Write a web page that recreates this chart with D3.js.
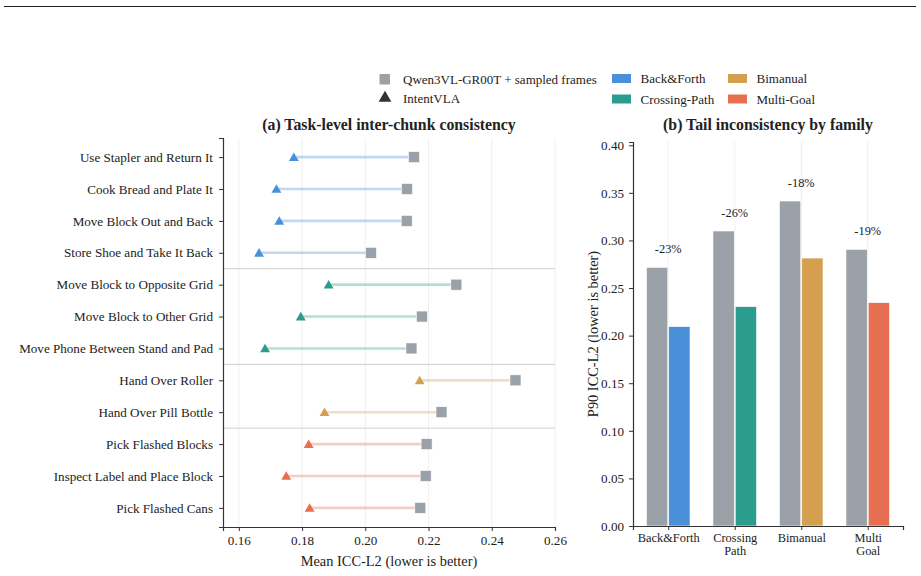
<!DOCTYPE html>
<html>
<head>
<meta charset="utf-8">
<script src="https://cdn.jsdelivr.net/npm/d3@7"></script>
<style>
  body { margin: 0; background: #fff; }
  svg text { font-family: "Liberation Serif", "Times New Roman", serif; fill: #222; }
</style>
</head>
<body>
<svg id="chart" width="921" height="576"></svg>
<script>
// task-level data (panel a)
const tasks = ["Use Stapler and Return It", "Cook Bread and Plate It", "Move Block Out and Back",
    "Store Shoe and Take It Back", "Move Block to Opposite Grid", "Move Block to Other Grid",
    "Move Phone Between Stand and Pad", "Hand Over Roller", "Hand Over Pill Bottle",
    "Pick Flashed Blocks", "Inspect Label and Place Block", "Pick Flashed Cans"];
const taskFamily = [0, 0, 0, 0, 1, 1, 1, 2, 2, 3, 3, 3];
const baselineMean = [0.2154, 0.2132, 0.2131, 0.2018, 0.2288, 0.2179, 0.2146, 0.2475, 0.2241, 0.2194, 0.2191, 0.2174];
const intentMean = [0.1774, 0.1719, 0.1728, 0.1664, 0.1884, 0.1796, 0.1683, 0.2172, 0.1871, 0.1821, 0.1750, 0.1824];
const meanTicks = [0.16, 0.18, 0.20, 0.22, 0.24, 0.26];

// family-level data (panel b)
const families = ["Back&Forth", "Crossing-Path", "Bimanual", "Multi-Goal"];
const familyTickLabels = [["Back&Forth"], ["Crossing", "Path"], ["Bimanual"], ["Multi", "Goal"]];
const baselineP90 = [0.2717, 0.3099, 0.3414, 0.2906];
const intentP90 = [0.2094, 0.2304, 0.2815, 0.2346];
const p90Ticks = [0, 0.05, 0.10, 0.15, 0.20, 0.25, 0.30, 0.35, 0.40];

const familyColors = ["#4a90d9", "#2a9d8f", "#d4a050", "#e76f51"];
const baseGray = "#9aa1a8";

const svg = d3.select('#chart');

// rule across the top
svg.append("line").attr("x1", 4).attr("x2", 916).attr("y1", 6.5).attr("y2", 6.5)
    .attr("stroke", "#222").attr("stroke-width", 1.2);

// ---------- panel a ----------
const aLeft = 223, aRight = 555, aTop = 138, aBottom = 527;
const xA = d3.scaleLinear().domain([0.155, 0.26]).range([aLeft, aRight]);
const yA = d3.scaleLinear().domain([-0.6, tasks.length - 0.4]).range([aTop, aBottom]);

const gA = svg.append("g");
gA.selectAll("line.grid").data(meanTicks).join("line")
    .attr("x1", d => xA(d)).attr("x2", d => xA(d))
    .attr("y1", aTop).attr("y2", aBottom)
    .attr("stroke", "#ebebeb").attr("stroke-width", 0.8);

// family separators
const seps = [];
for (let i = 1; i < tasks.length; i++) if (taskFamily[i] !== taskFamily[i - 1]) seps.push(i - 0.5);
gA.selectAll("line.sep").data(seps).join("line")
    .attr("x1", aLeft).attr("x2", aRight)
    .attr("y1", d => yA(d)).attr("y2", d => yA(d))
    .attr("stroke", "#cfcfcf").attr("stroke-width", 1);

tasks.forEach(function(t, i) {
    const c = familyColors[taskFamily[i]];
    gA.append("line")
        .attr("x1", xA(intentMean[i])).attr("x2", xA(baselineMean[i]))
        .attr("y1", yA(i)).attr("y2", yA(i))
        .attr("stroke", c).attr("stroke-opacity", 0.35).attr("stroke-width", 2.6);
    gA.append("rect")
        .attr("x", xA(baselineMean[i]) - 5.5).attr("y", yA(i) - 5.5)
        .attr("width", 11).attr("height", 11)
        .attr("fill", baseGray).attr("stroke", "#fff").attr("stroke-width", 0.6);
    gA.append("path")
        .attr("d", d3.symbol(d3.symbolTriangle, 42)())
        .attr("transform", `translate(${xA(intentMean[i])},${yA(i) + 1})`)
        .attr("fill", c);
});

const axA = gA.append("g").attr("transform", `translate(0,${aBottom})`)
    .call(d3.axisBottom(xA).tickValues(meanTicks).tickFormat(d3.format(".2f")).tickSize(4).tickPadding(5));
const ayA = gA.append("g").attr("transform", `translate(${aLeft},0)`)
    .call(d3.axisLeft(yA).tickValues(d3.range(tasks.length)).tickFormat(i => tasks[i]).tickSize(4).tickPadding(6));
[axA, ayA].forEach(function(ax) {
    ax.select(".domain").attr("stroke", "#333").attr("stroke-width", 1.2);
    ax.selectAll(".tick line").attr("stroke", "#333").attr("stroke-width", 1);
    ax.selectAll(".tick text").style("font-family", '"Liberation Serif", serif').style("font-size", "13.1px").attr("fill", "#222");
});

gA.append("text").attr("x", (aLeft + aRight) / 2).attr("y", 130)
    .attr("text-anchor", "middle").style("font-size", "15.8px").style("font-weight", "bold")
    .text("(a) Task-level inter-chunk consistency");
gA.append("text").attr("x", (aLeft + aRight) / 2).attr("y", 566)
    .attr("text-anchor", "middle").style("font-size", "14.4px")
    .text("Mean ICC-L2 (lower is better)");

// ---------- panel b ----------
const bLeft = 633, bRight = 903, bTop = 142, bBottom = 526;
const xB = d3.scaleLinear().domain([-0.53, 3.53]).range([bLeft, bRight]);
const yB = d3.scaleLinear().domain([0, 0.4034]).range([bBottom, bTop]);
const barW = 0.32;

const gB = svg.append("g");
gB.selectAll("line.grid").data(d3.range(families.length)).join("line")
    .attr("x1", d => xB(d)).attr("x2", d => xB(d))
    .attr("y1", bTop).attr("y2", bBottom)
    .attr("stroke", "#ebebeb").attr("stroke-width", 0.8);

const bw = xB(barW) - xB(0);
gB.selectAll("rect.base").data(baselineP90).join("rect")
    .attr("x", (d, i) => xB(i) - bw - 0.5).attr("width", bw)
    .attr("y", d => yB(d)).attr("height", d => bBottom - yB(d))
    .attr("fill", baseGray).attr("stroke", "#fff").attr("stroke-width", 0.6);
gB.selectAll("rect.intent").data(intentP90).join("rect")
    .attr("x", (d, i) => xB(i) + 0.5).attr("width", bw)
    .attr("y", d => yB(d)).attr("height", d => bBottom - yB(d))
    .attr("fill", (d, i) => familyColors[i]).attr("stroke", "#fff").attr("stroke-width", 0.6);

gB.selectAll("text.pct").data(baselineP90).join("text")
    .attr("x", (d, i) => xB(i)).attr("y", d => yB(d) - 14)
    .attr("text-anchor", "middle").style("font-size", "12.4px").attr("fill", "#555")
    .text((d, i) => Math.round((intentP90[i] - d) / d * 100) + "%");

const axB = gB.append("g").attr("transform", `translate(0,${bBottom})`)
    .call(d3.axisBottom(xB).tickValues(d3.range(families.length)).tickFormat("").tickSize(4));
axB.selectAll(".tick").each(function(i) {
    const t = d3.select(this).append("text").attr("y", 15.5).attr("text-anchor", "middle")
        .style("font-size", "12.4px").attr("fill", "#222");
    familyTickLabels[i].forEach((s, k) => t.append("tspan").attr("x", 0).attr("dy", k === 0 ? 0 : 13.5).text(s));
});
const ayB = gB.append("g").attr("transform", `translate(${bLeft},0)`)
    .call(d3.axisLeft(yB).tickValues(p90Ticks).tickFormat(d3.format(".2f")).tickSize(4).tickPadding(5));
[axB, ayB].forEach(function(ax) {
    ax.select(".domain").attr("stroke", "#333").attr("stroke-width", 1.2);
    ax.selectAll(".tick line").attr("stroke", "#333").attr("stroke-width", 1);
});
ayB.selectAll(".tick text").style("font-family", '"Liberation Serif", serif').style("font-size", "13.1px").attr("fill", "#222");

gB.append("text").attr("x", (bLeft + bRight) / 2).attr("y", 130)
    .attr("text-anchor", "middle").style("font-size", "15.8px").style("font-weight", "bold")
    .text("(b) Tail inconsistency by family");
gB.append("text").attr("transform", `translate(598,${(bTop + bBottom) / 2}) rotate(-90)`)
    .attr("text-anchor", "middle").style("font-size", "14.4px")
    .text("P90 ICC-L2 (lower is better)");

// ---------- legend ----------
const leg = svg.append("g").style("font-size", "13px");
leg.append("rect").attr("x", 379.5).attr("y", 74).attr("width", 10.5).attr("height", 10.5).attr("fill", baseGray);
leg.append("text").attr("x", 403).attr("y", 83.5).text("Qwen3VL-GR00T + sampled frames");
leg.append("path").attr("d", d3.symbol(d3.symbolTriangle, 70)())
    .attr("transform", "translate(385,98)").attr("fill", "#333");
leg.append("text").attr("x", 403).attr("y", 103).text("IntentVLA");
const legPos = [[612, 78.5], [612, 99], [728, 78.5], [728, 99]];
families.forEach(function(f, i) {
    const p = legPos[i];
    leg.append("rect").attr("x", p[0]).attr("y", p[1] - 4.5).attr("width", 19).attr("height", 9).attr("fill", familyColors[i]);
    leg.append("text").attr("x", p[0] + 28.5).attr("y", p[1] + 4.5).text(f);
});
</script>
</body>
</html>
